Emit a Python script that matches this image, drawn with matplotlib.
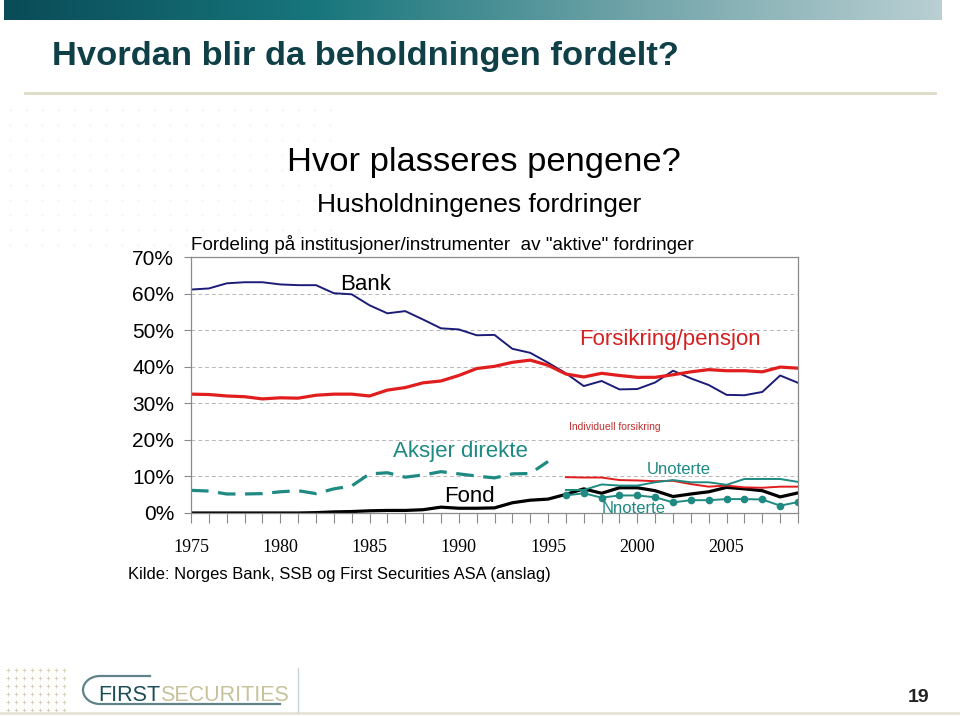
import numpy as np
import matplotlib
matplotlib.use("Agg")
import matplotlib.pyplot as plt
from matplotlib import font_manager as fm
from matplotlib.ticker import FuncFormatter, MultipleLocator

plt.rcParams['font.family'] = ['Liberation Sans', 'DejaVu Sans']

# data (share of households' "active" financial assets, %)
years = list(range(1975, 2010))
bank = [61.1, 61.4, 62.8, 63.1, 63.1, 62.5, 62.3, 62.3, 60.1, 59.8,
        56.8, 54.6, 55.2, 52.9, 50.5, 50.2, 48.6, 48.7, 44.9, 43.8,
        41.1, 38.2, 34.7, 36.1, 33.8, 33.9, 35.7, 38.9, 36.8, 35.0,
        32.3, 32.2, 33.1, 37.6, 35.6]
forsikring = [32.5, 32.4, 32.0, 31.8, 31.2, 31.5, 31.4, 32.2, 32.5, 32.5,
              32.0, 33.6, 34.3, 35.6, 36.1, 37.6, 39.5, 40.1, 41.2, 41.8,
              40.4, 38.0, 37.2, 38.2, 37.6, 37.1, 37.1, 37.8, 38.6, 39.2,
              38.9, 38.9, 38.6, 39.9, 39.6]
aksjer_years = list(range(1975, 1996))
aksjer = [6.2, 6.0, 5.2, 5.2, 5.3, 5.8, 6.1, 5.3, 6.6, 7.4,
          10.7, 11.0, 9.8, 10.4, 11.3, 10.7, 10.1, 9.6, 10.7, 10.8, 14.1]
fond = [0.0, 0.0, 0.0, 0.0, 0.0, 0.0, 0.0, 0.1, 0.3, 0.4,
        0.6, 0.7, 0.7, 0.9, 1.6, 1.3, 1.3, 1.4, 2.8, 3.5,
        3.8, 5.1, 6.6, 5.4, 6.9, 6.9, 6.1, 4.5, 5.2, 5.8,
        7.0, 6.6, 6.1, 4.4, 5.5]
late_years = list(range(1996, 2010))
individuell = [9.8, 9.7, 9.7, 9.0, 8.9, 8.7, 8.8, 7.9, 7.2, 7.5, 7.0, 6.9, 7.2, 7.2]
unoterte = [6.3, 6.3, 7.8, 7.5, 7.5, 8.4, 9.0, 8.4, 8.4, 7.7, 9.3, 9.3, 9.3, 8.5]
noterte = [4.8, 5.4, 4.2, 4.8, 4.8, 4.3, 2.9, 3.5, 3.5, 3.8, 3.8, 3.7, 2.0, 3.0]

NAVY = "#1c1c78"
RED = "#e01e1e"
TEAL = "#1e8a82"

names = {f.name for f in fm.fontManager.ttflist}
NARROW = "Liberation Sans Narrow" if "Liberation Sans Narrow" in names else "Liberation Sans"

W, H = 960, 716
fig = plt.figure(figsize=(W / 100, H / 100), dpi=100)

# background / slide decoration in pixel coords
bg = fig.add_axes([0, 0, 1, 1], zorder=-1)
bg.set_xlim(0, W)
bg.set_ylim(H, 0)
bg.axis("off")

grad = np.linspace(0, 1, 256).reshape(1, -1)
cmap = matplotlib.colors.LinearSegmentedColormap.from_list(
    "bar", ["#0a4c58", "#17767c", "#6fa3a8", "#b9cfd2"])
bg.imshow(grad, cmap=cmap, aspect="auto", extent=(4, 942, 20, 0))

gx, gy = np.meshgrid(np.arange(10, 340, 16), np.arange(110, 250, 15))
bg.scatter(gx.ravel(), gy.ravel(), marker="+", s=12, c="#f6f6f6", linewidths=0.7)
lx, ly = np.meshgrid(np.arange(8, 66, 8), np.arange(670, 712, 8))
bg.scatter(lx.ravel(), ly.ravel(), marker="+", s=10, c="#d6d2bd", linewidths=0.7)

bg.plot([25, 935], [93, 93], color="#dedbc9", lw=2)
bg.plot([0, 960], [713, 713], color="#e6e3d6", lw=2)
bg.plot([298, 298], [668, 712], color="#c9d5df", lw=1)

th = np.linspace(np.pi / 2, 3 * np.pi / 2, 40)
arc_x = np.concatenate([[150], 100 + 17 * np.cos(th), [280]])
arc_y = np.concatenate([[676], 690 - 14 * np.sin(th), [704]])
bg.plot(arc_x, arc_y, color="#5f8389", lw=1.6)

fig.text(52 / W, 1 - 57 / H, "Hvordan blir da beholdningen fordelt?",
         fontsize=24.8, fontweight="bold", family=NARROW, color="#0f3f47", va="center")
t_first = bg.text(98, 701, "FIRST", fontsize=15.5, family=NARROW, color="#1d4e57", va="baseline")
bg.annotate("SECURITIES", xy=(1, 0), xycoords=t_first, fontsize=15.5, family=NARROW,
            color="#c7c29c", va="bottom", ha="left")
fig.text(919 / W, 1 - 697 / H, "19", fontsize=14, fontweight="bold", family=NARROW,
         color="#222222", ha="center", va="center")

fig.text(484 / W, 1 - 163 / H, "Hvor plasseres pengene?", fontsize=24.8, ha="center", va="center")
fig.text(479 / W, 1 - 205 / H, "Husholdningenes fordringer", fontsize=19, ha="center", va="center")
fig.text(191 / W, 1 - 245 / H, 'Fordeling på institusjoner/instrumenter  av "aktive" fordringer',
         fontsize=13.6, ha="left", va="center")
fig.text(128 / W, 1 - 575 / H, "Kilde: Norges Bank, SSB og First Securities ASA (anslag)",
         fontsize=11.9, ha="left", va="center")

# chart
ax = fig.add_axes([191 / W, 1 - 513 / H, (798 - 191) / W, (513 - 257) / H])
ax.plot(years, bank, color=NAVY, lw=1.4)
ax.plot(years, forsikring, color=RED, lw=2.3)
ax.plot(aksjer_years, aksjer, color=TEAL, lw=2.3, dashes=(5.5, 3))
ax.plot(years, fond, color="black", lw=2.3)
ax.plot(late_years, individuell, color=RED, lw=1.4)
ax.plot(late_years, unoterte, color=TEAL, lw=1.4)
ax.plot(late_years, noterte, color=TEAL, lw=1.4, marker="o", ms=4.5)

ax.set_xlim(1975, 2009)
ax.set_ylim(0, 70)
ax.yaxis.set_major_locator(MultipleLocator(10))
ax.yaxis.set_major_formatter(FuncFormatter(lambda v, p: f"{v:.0f}%"))
ax.xaxis.set_major_locator(MultipleLocator(5))
ax.xaxis.set_minor_locator(MultipleLocator(1))
ax.grid(axis="y", color="#b8b8b8", ls=(0, (4, 3)), lw=0.7)
for sp in ax.spines.values():
    sp.set_color("#8a8a8a")
    sp.set_linewidth(0.9)
ax.tick_params(axis="y", length=5, width=0.8, color="#8a8a8a", pad=7, labelsize=15)
ax.tick_params(axis="x", which="both", length=7, width=0.8, color="#8a8a8a",
               pad=12, labelsize=13, labelfontfamily="Liberation Serif")

ax.text(1984.75, 62.6, "Bank", fontsize=16, ha="center", va="center")
ax.text(2001.8, 47.5, "Forsikring/pensjon", fontsize=16, color="#d42020", ha="center", va="center")
ax.text(1998.75, 23.4, "Individuell forsikring", fontsize=7.5, color="#c03030", ha="center", va="center")
ax.text(1990.1, 16.9, "Aksjer direkte", fontsize=16, color=TEAL, ha="center", va="center")
ax.text(1990.6, 4.6, "Fond", fontsize=16, ha="center", va="center")
ax.text(2002.3, 11.9, "Unoterte", fontsize=12, color=TEAL, ha="center", va="center")
ax.text(1999.8, 1.3, "Nnoterte", fontsize=12, color=TEAL, ha="center", va="center")

fig.savefig("out.png", dpi=100)
